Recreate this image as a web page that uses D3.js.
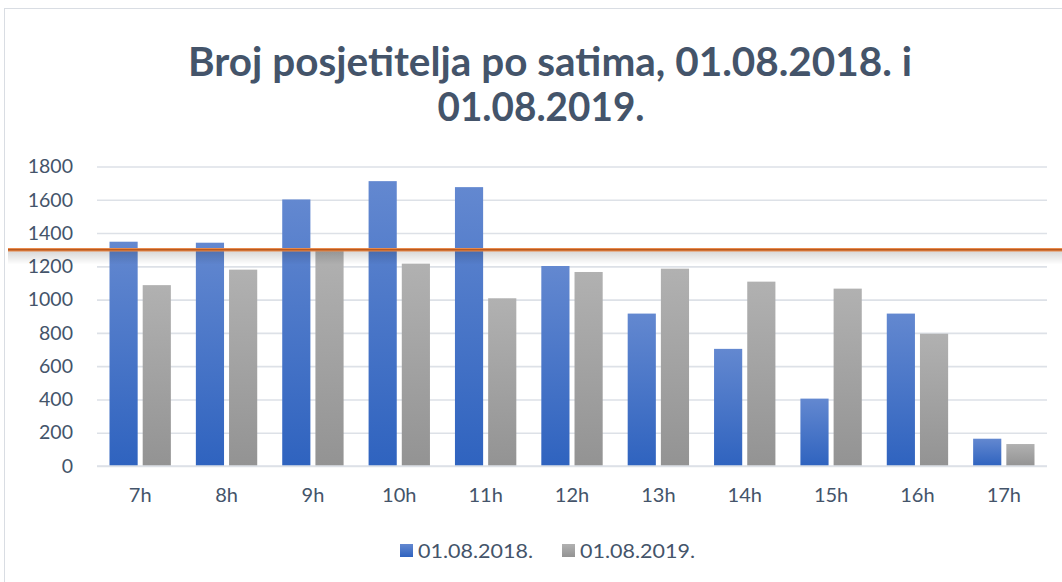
<!DOCTYPE html>
<html><head><meta charset="utf-8">
<script src="https://cdn.jsdelivr.net/npm/d3@7"></script>
<style>body{margin:0;background:#fff;} svg{display:block;}</style>
</head><body>
<script>
const categories = ["7h","8h","9h","10h","11h","12h","13h","14h","15h","16h","17h"];
const seriesNames = ["01.08.2018.","01.08.2019."];
const values2018 = [1348,1342,1602,1712,1676,1202,916,704,405,916,164];
const values2019 = [1087,1180,1295,1216,1008,1166,1186,1108,1066,795,132];
const yTicks = [0,200,400,600,800,1000,1200,1400,1600,1800];
const refLine = [1300];
const titleLines = ["Broj posjetitelja po satima, 01.08.2018. i","01.08.2019."];

const W = 1062, H = 582;
const svg = d3.select("body").append("svg").attr("width",W).attr("height",H);
const defs = svg.append("defs");
function grad(id, top, bot){
  const g = defs.append("linearGradient").attr("id",id).attr("x1",0).attr("y1",0).attr("x2",0).attr("y2",1);
  g.append("stop").attr("offset","0%").attr("stop-color",top);
  g.append("stop").attr("offset","100%").attr("stop-color",bot);
}
grad("gBlue","#6388d0","#2f63bf");
grad("gGray","#b1b1b1","#939393");
const sh = defs.append("linearGradient").attr("id","shadow").attr("x1",0).attr("y1",0).attr("x2",0).attr("y2",1);
sh.append("stop").attr("offset","0%").attr("stop-color","#000").attr("stop-opacity",0.16);
sh.append("stop").attr("offset","100%").attr("stop-color","#000").attr("stop-opacity",0);

// chart border
svg.append("rect").attr("x",4.5).attr("y",8.5).attr("width",W).attr("height",H)
  .attr("fill","none").attr("stroke","#d9dde3").attr("stroke-width",1);

const textColor = "#44546a";
const font = "Lato, 'Open Sans', sans-serif";

const title = svg.append("g");
const titleLens = [724, 207];
const titleCx = [550, 541];
titleLines.forEach((t,i)=>{
  title.append("text").attr("x",titleCx[i]).attr("y",76 + i*45)
    .attr("text-anchor","middle").attr("font-family",font).attr("font-weight","bold")
    .attr("font-size",40).attr("fill",textColor)
    .attr("textLength",titleLens[i]).attr("lengthAdjust","spacingAndGlyphs").text(t);
});

const plotL = 97, plotR = 1047;
const y = d3.scaleLinear().domain([0,1800]).range([466,166.5]);
const x0 = d3.scaleBand().domain(categories).range([plotL,plotR]).padding(0);
const groupPad = 12.5;
const x1 = d3.scaleBand().domain(seriesNames).range([groupPad, x0.bandwidth()-groupPad]).paddingInner(0.1515);

// gridlines
const yAxis = d3.axisLeft(y).tickValues(yTicks).tickSize(-(plotR-plotL)).tickFormat(d3.format("d"));
const ga = svg.append("g").attr("transform",`translate(${plotL},0)`).call(yAxis);
ga.select(".domain").remove();
ga.selectAll(".tick line").attr("stroke","#dde1e7").attr("stroke-width",1.6);
ga.selectAll(".tick text").attr("x",-24).attr("font-family",font).attr("font-size",19.5)
  .attr("fill",textColor);

// x axis
const xAxis = d3.axisBottom(x0).tickSize(0).tickPadding(22);
const gx = svg.append("g").attr("transform",`translate(0,${y(0)})`).call(xAxis);
gx.select(".domain").remove();
gx.selectAll(".tick text").attr("font-family",font).attr("font-size",20).attr("fill",textColor);

const data = categories.map((c,i)=>({cat:c, vals:[{s:seriesNames[0],v:values2018[i]},{s:seriesNames[1],v:values2019[i]}]}));
const fills = {[seriesNames[0]]:"url(#gBlue)",[seriesNames[1]]:"url(#gGray)"};
svg.append("g").selectAll("g").data(data).join("g")
  .attr("transform",d=>`translate(${x0(d.cat)},0)`)
  .selectAll("rect").data(d=>d.vals).join("rect")
  .attr("x",d=>x1(d.s)).attr("width",x1.bandwidth())
  .attr("y",d=>y(d.v)).attr("height",d=>y(0)-y(d.v))
  .attr("fill",d=>fills[d.s]);

// baseline
svg.append("line").attr("x1",plotL).attr("x2",plotR).attr("y1",y(0)).attr("y2",y(0))
  .attr("stroke","#dde1e7").attr("stroke-width",1.6);

// reference line with shadow
refLine.forEach(v=>{
  const yy = y(v);
  svg.append("rect").attr("x",8).attr("y",yy+1).attr("width",W-8).attr("height",14).attr("fill","url(#shadow)");
  svg.append("line").attr("x1",8).attr("x2",W).attr("y1",yy).attr("y2",yy)
    .attr("stroke","#e88a4c").attr("stroke-width",3.5);
  svg.append("line").attr("x1",8).attr("x2",W).attr("y1",yy).attr("y2",yy)
    .attr("stroke","#b95a20").attr("stroke-width",1.5);
});

// legend
const leg = svg.append("g");
const legX = [400, 562];
seriesNames.forEach((s,i)=>{
  leg.append("rect").attr("x",legX[i]).attr("y",544).attr("width",13).attr("height",13).attr("fill",fills[s]);
  leg.append("text").attr("x",legX[i]+18).attr("y",558).attr("font-family",font).attr("font-size",19.5)
    .attr("fill",textColor).attr("textLength",115).attr("lengthAdjust","spacingAndGlyphs").text(s);
});
</script>
</body></html>
